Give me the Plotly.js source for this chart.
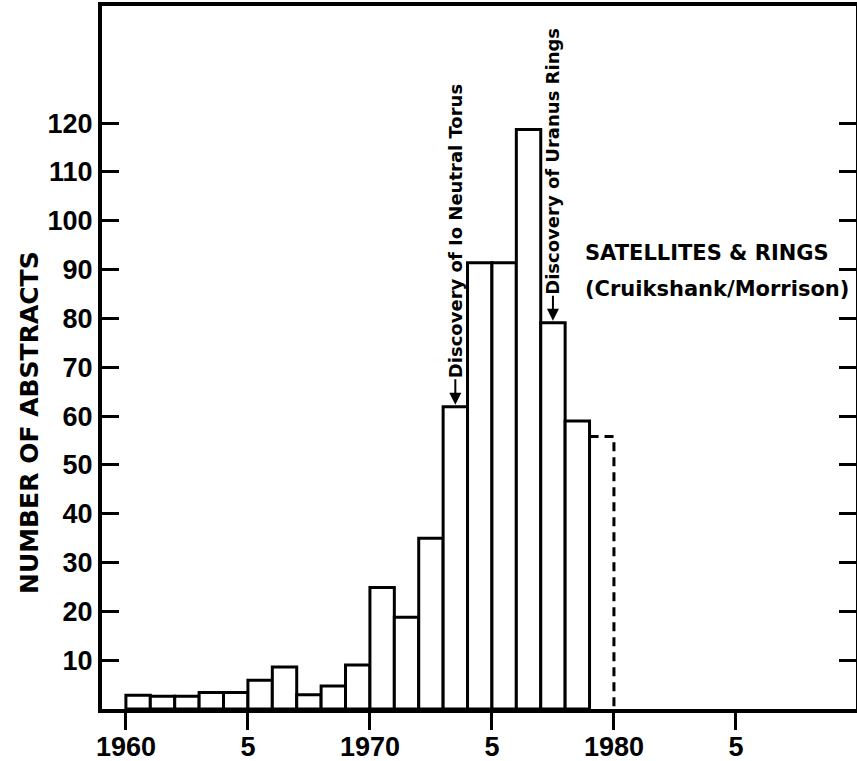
<!DOCTYPE html>
<html>
<head>
<meta charset="utf-8">
<script src="https://cdn.plot.ly/plotly-3.0.1.min.js"></script>
<style>html,body{margin:0;padding:0;background:#fff;}</style>
</head>
<body>
<div id="chart" style="width:857px;height:761px;"></div>
<script>
// Data
const years = [1960,1961,1962,1963,1964,1965,1966,1967,1968,1969,1970,1971,1972,1973,1974,1975,1976,1977,1978];
const counts = [2.8,2.6,2.6,3.4,3.4,5.9,8.6,2.9,4.7,9.0,24.9,18.8,35.0,61.9,91.4,91.4,118.7,79.1,59.0];
// partial (dashed) year
const partialYear = 1979;
const partialCount = 55.8;

const xTickVals = [1960,1965,1970,1975,1980,1985];
const xTickText = ['1960','5','1970','5','1980','5'];
const yTickVals = [10,20,30,40,50,60,70,80,90,100,110,120];
const yTickText = ['10','20','30','40','50','60','70','80','90','100','110','120'];

const ioEvent = {year:1973, label:'Discovery of Io Neutral Torus'};
const uranusEvent = {year:1977, label:'Discovery of Uranus Rings'};
const yTitle = 'NUMBER OF ABSTRACTS';
const noteLines = ['SATELLITES &amp; RINGS', '(Cruikshank/Morrison)'];

const countOf = y => counts[years.indexOf(y)];

const tickFont = {family:'Liberation Sans, Arial, sans-serif', size:27, color:'#000', weight:'bold'};
const textFont = {family:'DejaVu Sans, sans-serif', size:21, color:'#000', weight:'bold'};
const annFont = {family:'DejaVu Sans, sans-serif', size:18, color:'#000', weight:'bold'};

const traces = [
  {
    type:'bar',
    x: years.map(y => y + 0.5),
    y: counts,
    width: years.map(() => 1),
    marker:{color:'#fff', line:{color:'#000', width:3}},
    hoverinfo:'skip',
    showlegend:false
  },
  {
    type:'scatter', mode:'lines',
    x:[partialYear, partialYear + 1, partialYear + 1],
    y:[partialCount, partialCount, 0],
    line:{color:'#000', width:3, dash:'9px,6px'},
    hoverinfo:'skip',
    showlegend:false
  }
];

const layout = {
  width:857, height:761,
  margin:{l:102, r:1, t:6, b:52, pad:0},
  paper_bgcolor:'#fff', plot_bgcolor:'#fff',
  showlegend:false,
  bargap:0,
  xaxis:{
    range:[1959.02, 1989.92],
    tickmode:'array', tickvals:xTickVals, ticktext:xTickText,
    ticks:'outside', ticklen:17, tickwidth:3, tickcolor:'#000',
    ticklabelstandoff:-6,
    showline:true, linewidth:4, linecolor:'#000', mirror:true,
    showgrid:false, zeroline:false,
    tickfont:tickFont
  },
  yaxis:{
    range:[0,144],
    tickmode:'array', tickvals:yTickVals, ticktext:yTickText,
    ticks:'inside', ticklen:17, tickwidth:3, tickcolor:'#000',
    showline:true, linewidth:4, linecolor:'#000', mirror:'ticks',
    showgrid:false, zeroline:false,
    tickfont:tickFont
  },
  annotations:[
    {
      x:-0.0968, y:0.4068, xref:'paper', yref:'paper', xanchor:'center', yanchor:'middle',
      text:yTitle, textangle:-90, showarrow:false,
      font:{family:'DejaVu Sans, sans-serif', size:25, color:'#000', weight:'bold'}
    },
    {
      x: ioEvent.year + 0.5, y: countOf(ioEvent.year), xref:'x', yref:'y',
      text: ioEvent.label, textangle:-90, font:annFont,
      showarrow:true, arrowhead:2, arrowsize:1.2, arrowwidth:2, arrowcolor:'#000',
      ax:0, ay:-176, standoff:2
    },
    {
      x: uranusEvent.year + 0.5, y: countOf(uranusEvent.year), xref:'x', yref:'y',
      text: uranusEvent.label, textangle:-90, font:annFont,
      showarrow:true, arrowhead:2, arrowsize:1.2, arrowwidth:2, arrowcolor:'#000',
      ax:0, ay:-162, standoff:2
    },
    {
      x:1978.73, y:93.4, xref:'x', yref:'y', xanchor:'left', yanchor:'middle',
      text:noteLines[0], showarrow:false, font:textFont
    },
    {
      x:1978.73, y:86.0, xref:'x', yref:'y', xanchor:'left', yanchor:'middle',
      text:noteLines[1], showarrow:false, font:textFont
    }
  ]
};

Plotly.newPlot('chart', traces, layout, {displayModeBar:false, staticPlot:true});
</script>
</body>
</html>
